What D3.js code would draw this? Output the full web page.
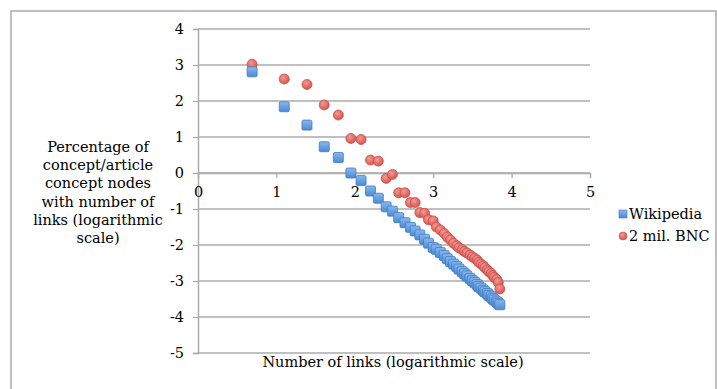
<!DOCTYPE html>
<html>
<head>
<meta charset="utf-8">
<script src="https://cdn.jsdelivr.net/npm/d3@7"></script>
<style>
  body { margin: 0; background: #fff; }
  text { font-family: "DejaVu Serif", serif; fill: #000; }
</style>
</head>
<body>
<script>
// x = log of link count, shared by both series
var xValues = [0.69, 1.10, 1.39, 1.61, 1.79, 1.95, 2.08, 2.20, 2.30, 2.40,
  2.48, 2.56, 2.64, 2.71, 2.77, 2.83, 2.89, 2.94, 3.00, 3.04, 3.09, 3.14,
  3.18, 3.22, 3.26, 3.30, 3.33, 3.37, 3.40, 3.43, 3.47, 3.50, 3.53, 3.56,
  3.58, 3.61, 3.64, 3.66, 3.69, 3.71, 3.74, 3.76, 3.78, 3.81, 3.83, 3.85]

var wikipedia = [2.81, 1.84, 1.33, 0.73, 0.43, 0.00, -0.21, -0.50, -0.70, -0.94,
  -1.06, -1.24, -1.38, -1.51, -1.61, -1.72, -1.84, -1.95, -2.07, -2.12, -2.21, -2.29,
  -2.38, -2.46, -2.53, -2.60, -2.67, -2.74, -2.80, -2.86, -2.93, -2.99, -3.04, -3.10,
  -3.15, -3.20, -3.26, -3.30, -3.35, -3.40, -3.44, -3.49, -3.53, -3.58, -3.62, -3.66]

var bnc = [3.02, 2.61, 2.46, 1.89, 1.61, 0.96, 0.93, 0.36, 0.33, -0.15,
  -0.04, -0.55, -0.55, -0.82, -0.82, -1.10, -1.12, -1.30, -1.33, -1.50, -1.58, -1.68,
  -1.78, -1.86, -1.95, -2.02, -2.08, -2.13, -2.18, -2.22, -2.28, -2.33, -2.37, -2.42,
  -2.48, -2.53, -2.58, -2.63, -2.69, -2.74, -2.79, -2.85, -2.90, -2.96, -3.04, -3.22]

var xTicks = [0, 1, 2, 3, 4, 5]
var yTicks = [-5, -4, -3, -2, -1, 0, 1, 2, 3, 4]
var seriesNames = ['Wikipedia', '2 mil. BNC']

var width = 717
var height = 389
var fontSize = '14.5px'
var axisGray = '#ababab'

var svg = d3.select('body').append('svg')
  .attr('width', width)
  .attr('height', height)

var defs = svg.append('defs')

var blueGrad = defs.append('linearGradient').attr('id', 'blueGrad')
  .attr('x1', 0).attr('y1', 0).attr('x2', 0).attr('y2', 1)
blueGrad.append('stop').attr('offset', '0%').attr('stop-color', '#8ab8ec')
blueGrad.append('stop').attr('offset', '100%').attr('stop-color', '#4a8ad6')

var redGrad = defs.append('radialGradient').attr('id', 'redGrad')
  .attr('cx', '40%').attr('cy', '35%').attr('r', '65%')
redGrad.append('stop').attr('offset', '0%').attr('stop-color', '#f29a94')
redGrad.append('stop').attr('offset', '100%').attr('stop-color', '#d9534d')

// outer chart frame
svg.append('rect')
  .attr('x', 11).attr('y', 11)
  .attr('width', 705).attr('height', 400)
  .attr('fill', 'none')
  .attr('stroke', axisGray)
  .attr('stroke-width', 1.5)

var x = d3.scaleLinear().domain([0, 5]).range([198, 590])
var y = d3.scaleLinear().domain([-5, 4]).range([353, 29])

// horizontal grid
svg.append('g')
  .selectAll('line')
  .data(yTicks)
  .join('line')
  .attr('x1', x(0)).attr('x2', x(5))
  .attr('y1', d => y(d)).attr('y2', d => y(d))
  .attr('stroke', axisGray)
  .attr('stroke-width', 1.3)

// y axis
var yAxis = svg.append('g')
  .attr('transform', 'translate(' + x(0) + ',0)')
  .call(d3.axisLeft(y).tickValues(yTicks).tickSize(5).tickPadding(9).tickFormat(d => String(d)))
yAxis.select('.domain').attr('stroke', axisGray).attr('stroke-width', 1.5)
yAxis.selectAll('.tick line').attr('stroke', axisGray).attr('stroke-width', 1.3)
yAxis.selectAll('text').style('font-size', fontSize).style('font-family', '"DejaVu Serif", serif')

// x axis sits on y = 0
var xAxis = svg.append('g')
  .attr('transform', 'translate(0,' + y(0) + ')')
  .call(d3.axisBottom(x).tickValues(xTicks).tickSize(5).tickPadding(9).tickFormat(d => String(d)))
xAxis.select('.domain').attr('stroke', axisGray).attr('stroke-width', 1.3)
xAxis.selectAll('.tick line').attr('stroke', axisGray).attr('stroke-width', 1.3)
xAxis.selectAll('text').style('font-size', fontSize).style('font-family', '"DejaVu Serif", serif')

var blueData = xValues.map((v, i) => [v, wikipedia[i]])
var redData = xValues.map((v, i) => [v, bnc[i]])

svg.append('g')
  .selectAll('circle')
  .data(redData)
  .join('circle')
  .attr('cx', d => x(d[0]))
  .attr('cy', d => y(d[1]))
  .attr('r', 5)
  .attr('fill', 'url(#redGrad)')
  .attr('stroke', '#c9504a')
  .attr('stroke-width', 0.8)

svg.append('g')
  .selectAll('rect')
  .data(blueData)
  .join('rect')
  .attr('x', d => x(d[0]) - 5)
  .attr('y', d => y(d[1]) - 5)
  .attr('width', 10)
  .attr('height', 10)
  .attr('rx', 1.5)
  .attr('fill', 'url(#blueGrad)')
  .attr('stroke', '#3d7cc4')
  .attr('stroke-width', 0.8)

// legend
var legend = svg.append('g')
legend.append('rect')
  .attr('x', 619).attr('y', 210).attr('width', 8).attr('height', 8)
  .attr('fill', 'url(#blueGrad)').attr('stroke', '#3d7cc4').attr('stroke-width', 0.6)
legend.append('circle')
  .attr('cx', 623).attr('cy', 236).attr('r', 4)
  .attr('fill', 'url(#redGrad)').attr('stroke', '#c9504a').attr('stroke-width', 0.6)
legend.selectAll('text.lg')
  .data(seriesNames)
  .join('text')
  .attr('class', 'lg')
  .attr('x', 629)
  .attr('y', (d, i) => 219 + i * 22)
  .style('font-size', fontSize)
  .text(d => d)

// axis titles
var yTitle = ['Percentage of', 'concept/article', 'concept nodes', 'with number of',
  'links (logarithmic', 'scale)']
svg.append('g')
  .selectAll('text')
  .data(yTitle)
  .join('text')
  .attr('x', 98)
  .attr('y', (d, i) => 152 + i * 18.2)
  .attr('text-anchor', 'middle')
  .style('font-size', fontSize)
  .text(d => d)

svg.append('text')
  .attr('x', 393)
  .attr('y', 367)
  .attr('text-anchor', 'middle')
  .style('font-size', fontSize)
  .text('Number of links (logarithmic scale)')
</script>
</body>
</html>
